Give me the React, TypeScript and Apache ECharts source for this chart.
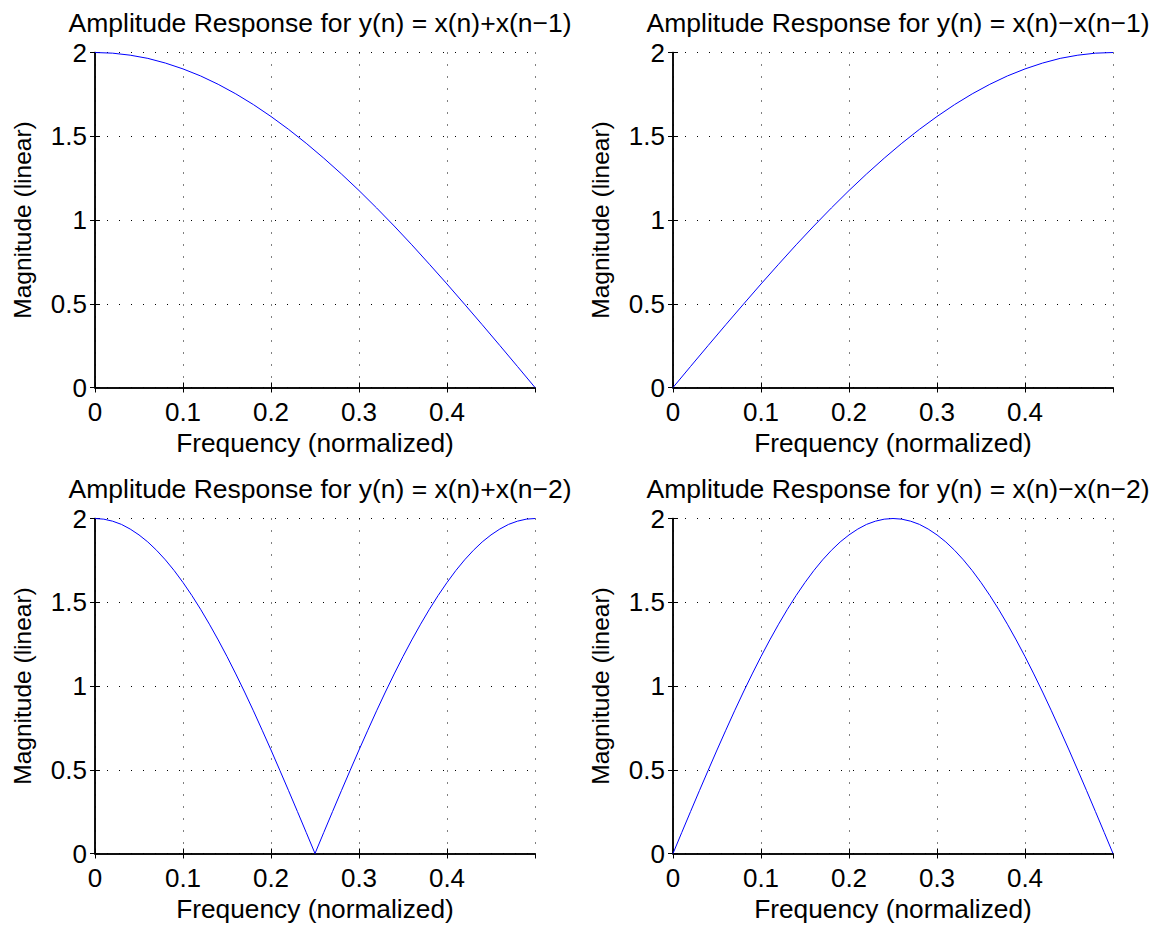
import React, { useEffect, useRef } from "react";
import * as echarts from "echarts";

const freqCoarse = [0, 0.02, 0.04, 0.06, 0.08, 0.1, 0.12, 0.14, 0.16, 0.18, 0.2, 0.22, 0.24, 0.26, 0.28, 0.3, 0.32, 0.34, 0.36, 0.38, 0.4, 0.42, 0.44, 0.46, 0.48, 0.5];
const freqFine = [0, 0.01, 0.02, 0.03, 0.04, 0.05, 0.06, 0.07, 0.08, 0.09, 0.1, 0.11, 0.12, 0.13, 0.14, 0.15, 0.16, 0.17, 0.18, 0.19, 0.2, 0.21, 0.22, 0.23, 0.24, 0.25, 0.26, 0.27, 0.28, 0.29, 0.3, 0.31, 0.32, 0.33, 0.34, 0.35, 0.36, 0.37, 0.38, 0.39, 0.4, 0.41, 0.42, 0.43, 0.44, 0.45, 0.46, 0.47, 0.48, 0.49, 0.5];

const ampSumDelay1 = [2, 1.996, 1.984, 1.965, 1.937, 1.902, 1.86, 1.81, 1.753, 1.689, 1.618, 1.541, 1.458, 1.369, 1.275, 1.176, 1.072, 0.964, 0.852, 0.736, 0.618, 0.497, 0.375, 0.251, 0.126, 0];
const ampDiffDelay1 = [0, 0.126, 0.251, 0.375, 0.497, 0.618, 0.736, 0.852, 0.964, 1.072, 1.176, 1.275, 1.369, 1.458, 1.541, 1.618, 1.689, 1.753, 1.81, 1.86, 1.902, 1.937, 1.965, 1.984, 1.996, 2];
const ampSumDelay2 = [2, 1.996, 1.984, 1.965, 1.937, 1.902, 1.86, 1.81, 1.753, 1.689, 1.618, 1.541, 1.458, 1.369, 1.275, 1.176, 1.072, 0.964, 0.852, 0.736, 0.618, 0.497, 0.375, 0.251, 0.126, 0, 0.126, 0.251, 0.375, 0.497, 0.618, 0.736, 0.852, 0.964, 1.072, 1.176, 1.275, 1.369, 1.458, 1.541, 1.618, 1.689, 1.753, 1.81, 1.86, 1.902, 1.937, 1.965, 1.984, 1.996, 2];
const ampDiffDelay2 = [0, 0.126, 0.251, 0.375, 0.497, 0.618, 0.736, 0.852, 0.964, 1.072, 1.176, 1.275, 1.369, 1.458, 1.541, 1.618, 1.689, 1.753, 1.81, 1.86, 1.902, 1.937, 1.965, 1.984, 1.996, 2, 1.996, 1.984, 1.965, 1.937, 1.902, 1.86, 1.81, 1.753, 1.689, 1.618, 1.541, 1.458, 1.369, 1.275, 1.176, 1.072, 0.964, 0.852, 0.736, 0.618, 0.497, 0.375, 0.251, 0.126, 0];

const titles = [
  "Amplitude Response for y(n) = x(n)+x(n\u22121)",
  "Amplitude Response for y(n) = x(n)\u2212x(n\u22121)",
  "Amplitude Response for y(n) = x(n)+x(n\u22122)",
  "Amplitude Response for y(n) = x(n)\u2212x(n\u22122)",
];
const xName = "Frequency (normalized)";
const yName = "Magnitude (linear)";

const panels = [
  { x: freqCoarse, y: ampSumDelay1 },
  { x: freqCoarse, y: ampDiffDelay1 },
  { x: freqFine, y: ampSumDelay2 },
  { x: freqFine, y: ampDiffDelay2 },
];

const FONT = "'Liberation Sans', Arial, Helvetica, sans-serif";

export default function App() {
  const ref = useRef<HTMLDivElement>(null);
  useEffect(() => {
    if (!ref.current) return;
    const chart = echarts.init(ref.current, undefined, { renderer: "svg" });
    const lefts = [95, 673, 95, 673];
    const tops = [52.5, 52.5, 518.5, 518.5];
    const W = 440;
    const H = 335;
    const grid: any[] = [];
    const xAxis: any[] = [];
    const yAxis: any[] = [];
    const series: any[] = [];
    const title: any[] = [];
    const axisLine = { show: true, lineStyle: { color: "#000", width: 1.5 } };
    const tick = { show: true, inside: true, length: 5, lineStyle: { color: "#000", width: 1 } };
    const split = { show: true, lineStyle: { color: "#000", width: 1, type: [1, 11] } };
    panels.forEach((p, i) => {
      grid.push({ left: lefts[i], top: tops[i], width: W, height: H, containLabel: false });
      title.push({
        text: titles[i],
        left: lefts[i] + W / 2,
        textAlign: "center",
        top: tops[i] - 48,
        textStyle: { fontFamily: FONT, fontSize: 26.5, fontWeight: "normal", color: "#000" },
      });
      xAxis.push({
        gridIndex: i,
        type: "value",
        min: 0,
        max: 0.5,
        interval: 0.1,
        position: "bottom",
        axisLine,
        axisTick: tick,
        splitLine: split,
        axisLabel: {
          show: true,
          margin: 11,
          showMaxLabel: false,
          fontFamily: FONT,
          fontSize: 26,
          color: "#000",
          formatter: (v: number) => (v >= 0.5 ? "" : String(v)),
        },
        name: xName,
        nameLocation: "middle",
        nameGap: 42,
        nameTextStyle: { fontFamily: FONT, fontSize: 26.3, color: "#000" },
      });
      xAxis.push({
        gridIndex: i,
        type: "value",
        min: 0,
        max: 0.5,
        interval: 0.1,
        position: "top",
        axisLine,
        axisTick: tick,
        splitLine: { show: false },
        axisLabel: { show: false },
      });
      yAxis.push({
        gridIndex: i,
        type: "value",
        min: 0,
        max: 2,
        interval: 0.5,
        position: "left",
        axisLine,
        axisTick: tick,
        splitLine: split,
        axisLabel: {
          show: true,
          margin: 8,
          fontFamily: FONT,
          fontSize: 26,
          color: "#000",
          formatter: (v: number) => String(v),
        },
        name: yName,
        nameLocation: "middle",
        nameRotate: 90,
        nameGap: 60,
        nameTextStyle: { fontFamily: FONT, fontSize: 24.5, color: "#000" },
      });
      yAxis.push({
        gridIndex: i,
        type: "value",
        min: 0,
        max: 2,
        interval: 0.5,
        position: "right",
        axisLine,
        axisTick: tick,
        splitLine: { show: false },
        axisLabel: { show: false },
      });
      series.push({
        type: "line",
        xAxisIndex: 2 * i,
        yAxisIndex: 2 * i,
        showSymbol: false,
        symbol: "none",
        clip: false,
        lineStyle: { color: "#0000ff", width: 1 },
        itemStyle: { color: "#0000ff" },
        data: p.x.map((f, k) => [f, p.y[k]]),
      });
    });
    chart.setOption({
      animation: false,
      backgroundColor: "#fff",
      title,
      grid,
      xAxis,
      yAxis,
      series,
    });
    return () => chart.dispose();
  }, []);
  return (
    <div
      ref={ref}
      style={{ position: "absolute", left: 0, top: 0, width: 1159, height: 926 }}
    />
  );
}
